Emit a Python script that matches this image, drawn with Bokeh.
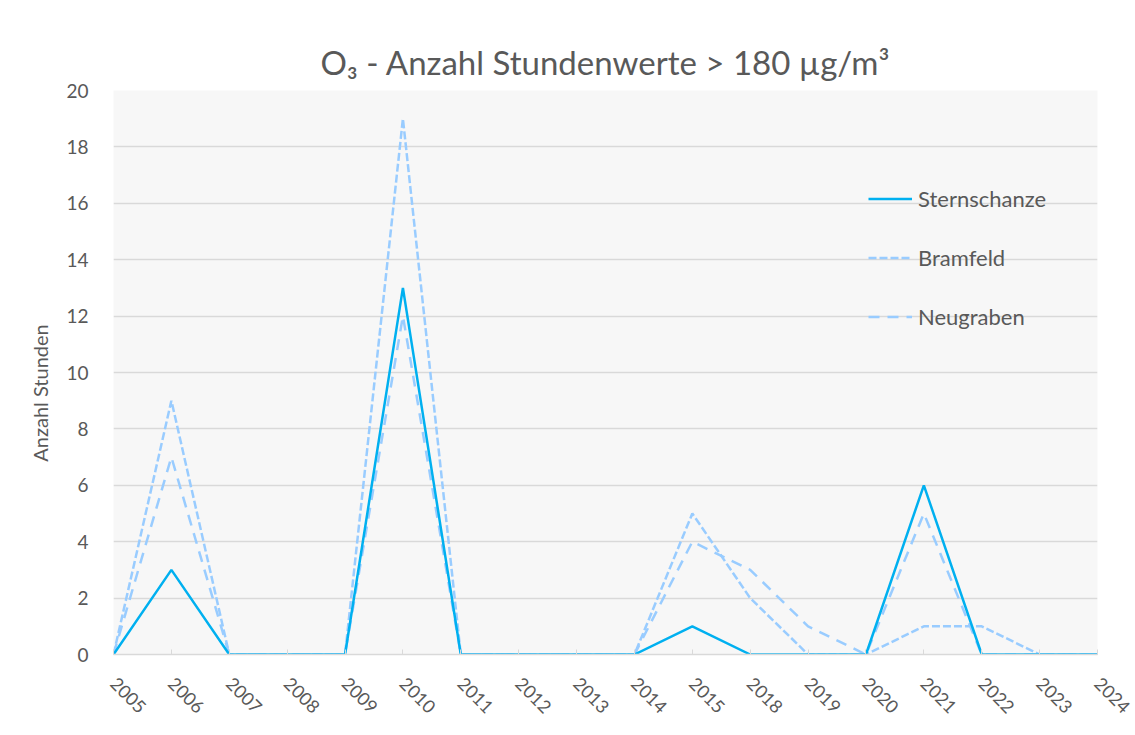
import math
from bokeh.plotting import figure
from bokeh.models import Range1d, FixedTicker, Legend, LegendItem, ColumnDataSource, Title
from bokeh.embed import file_html
from bokeh.resources import INLINE

years = ["2005", "2006", "2007", "2008", "2009", "2010", "2011", "2012", "2013",
         "2014", "2015", "2018", "2019", "2020", "2021", "2022", "2023", "2024"]
sternschanze = [0, 3, 0, 0, 0, 13, 0, 0, 0, 0, 1, 0, 0, 0, 6, 0, 0, 0]
bramfeld = [0, 9, 0, 0, 0, 19, 0, 0, 0, 0, 5, 2, 0, 0, 1, 1, 0, 0]
neugraben = [0, 7, 0, 0, 0, 12, 0, 0, 0, 0, 4, 3, 1, 0, 5, 0, 0, 0]
y_ticks = [0, 2, 4, 6, 8, 10, 12, 14, 16, 18, 20]

FONT = "Lato"
TXT = "#595959"
NB = "\u00a0"

idx = list(range(len(years)))
src = ColumnDataSource(dict(x=idx, s=sternschanze, b=bramfeld, n=neugraben))

p = figure(width=1135, height=735, output_backend="svg", toolbar_location=None,
           x_range=Range1d(0, len(years) - 1), y_range=Range1d(0, 20),
           min_border_left=113, min_border_right=38, min_border_top=90, min_border_bottom=81)

spacer = Title(text=NB, text_font=FONT, text_font_size="6px", text_color="white", standoff=0)
main_title = Title(text="O\u2083 - Anzahl Stundenwerte > 180 \u00b5g/m\u00b3", align="center",
                   text_font=FONT, text_font_size="33px", text_font_style="normal",
                   text_color=TXT, standoff=0)
p.add_layout(spacer, "above")
p.add_layout(main_title, "above")

p.background_fill_color = "#f7f7f7"
p.border_fill_color = "white"
p.outline_line_color = None

p.xaxis.ticker = FixedTicker(ticks=idx)
p.xaxis.major_label_overrides = {i: y for i, y in enumerate(years)}
p.xaxis.major_label_orientation = -math.pi / 4
p.xaxis.axis_line_color = "#d9d9d9"
p.xaxis.axis_line_width = 1.5
p.xaxis.major_tick_line_color = "#d9d9d9"
p.xaxis.major_tick_in = 5
p.xaxis.major_tick_out = 0
p.xaxis.minor_tick_line_color = None
p.xaxis.major_label_text_font = FONT
p.xaxis.major_label_text_font_size = "18px"
p.xaxis.major_label_text_color = TXT
p.xaxis.major_label_standoff = 26

p.yaxis.ticker = FixedTicker(ticks=y_ticks)
p.yaxis.axis_line_color = None
p.yaxis.major_tick_line_color = None
p.yaxis.minor_tick_line_color = None
p.yaxis.major_label_text_font = FONT
p.yaxis.major_label_text_font_size = "19px"
p.yaxis.major_label_text_color = TXT
p.yaxis.major_label_standoff = 19
p.yaxis.axis_label = "Anzahl Stunden" + NB * 8
p.yaxis.axis_label_text_font = FONT
p.yaxis.axis_label_text_font_size = "20px"
p.yaxis.axis_label_text_font_style = "normal"
p.yaxis.axis_label_text_color = TXT
p.yaxis.axis_label_standoff = 11

p.xgrid.grid_line_color = None
p.ygrid.grid_line_color = "#d9d9d9"
p.ygrid.grid_line_width = 1.5

r_b = p.line("x", "b", source=src, line_color="#99ccff", line_width=2.5, line_dash="8 3")
r_n = p.line("x", "n", source=src, line_color="#99ccff", line_width=2.5, line_dash="11 8")
r_s = p.line("x", "s", source=src, line_color="#00b0f0", line_width=2.5)

legend = Legend(items=[LegendItem(label="Sternschanze", renderers=[r_s]),
                       LegendItem(label="Bramfeld", renderers=[r_b]),
                       LegendItem(label="Neugraben", renderers=[r_n])],
                location=(755, 324), orientation="vertical",
                padding=0, margin=0, spacing=32,
                glyph_width=44, glyph_height=25, label_height=25, label_standoff=6,
                label_text_font=FONT, label_text_font_size="22px", label_text_color=TXT,
                border_line_alpha=0, background_fill_alpha=0)
p.add_layout(legend, "center")

open("out.html", "w").write(file_html(p, INLINE))
